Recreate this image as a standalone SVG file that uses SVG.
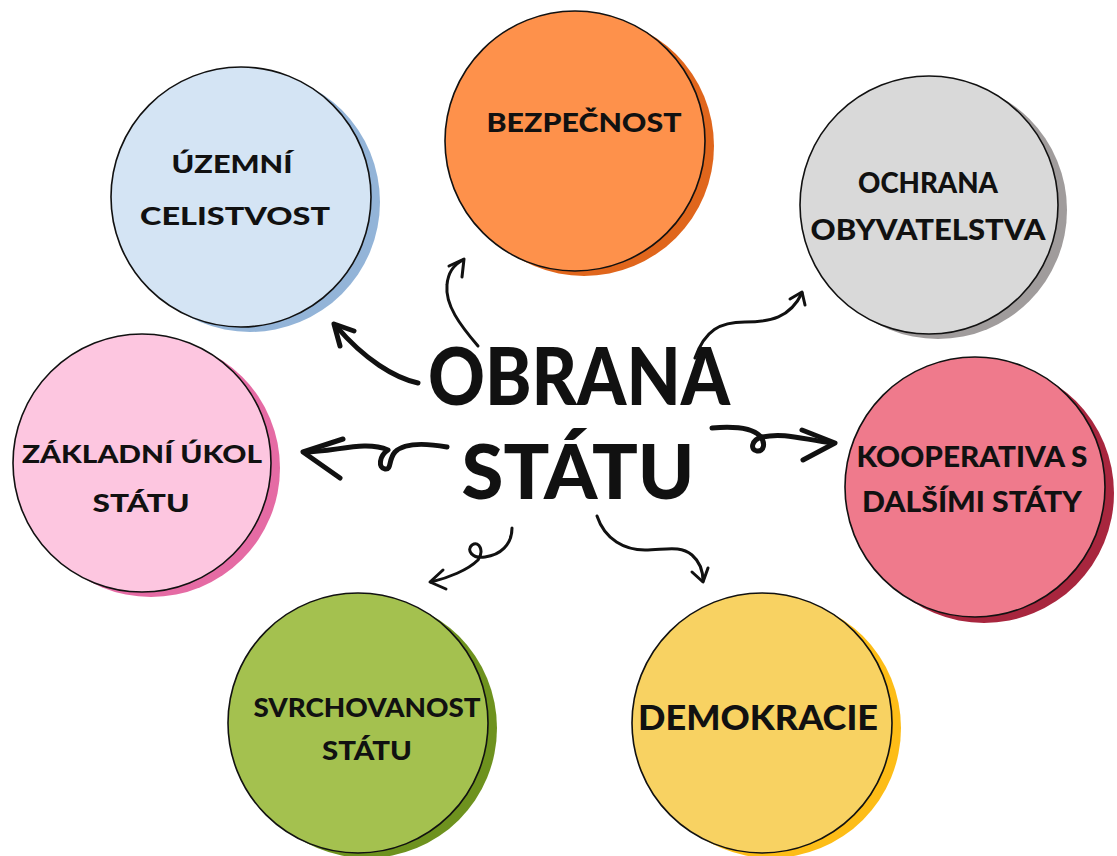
<svg xmlns="http://www.w3.org/2000/svg" width="1117" height="856" viewBox="0 0 1117 856">
<style>
.lbl{font-family:Lato,"Liberation Sans","Noto Sans",sans-serif;font-weight:900;fill:#111;text-anchor:middle}
.ring{stroke:#111;stroke-width:1.6}
.con{fill:none;stroke:#111;stroke-linecap:round;stroke-linejoin:round}
.thick{stroke-width:5}
.thin{stroke-width:3}
</style>
<rect width="1117" height="856" fill="#fff"/>
<g id="node-uzemni">
<circle cx="250" cy="202" r="130" fill="#93b4d8"/>
<circle class="ring" cx="241" cy="197" r="130" fill="#d4e4f4"/>
<text class="lbl" x="232" y="173" font-size="24" textLength="121" lengthAdjust="spacingAndGlyphs">ÚZEMNÍ</text>
<text class="lbl" x="235" y="225" font-size="24" textLength="190" lengthAdjust="spacingAndGlyphs">CELISTVOST</text>
</g>
<g id="node-bezpecnost">
<circle cx="584" cy="146" r="130" fill="#e0661c"/>
<circle class="ring" cx="575" cy="141" r="130" fill="#fe914b"/>
<text class="lbl" x="584" y="132" font-size="26" textLength="195" lengthAdjust="spacingAndGlyphs">BEZPEČNOST</text>
</g>
<g id="node-ochrana">
<circle cx="938" cy="210" r="129" fill="#a09c9c"/>
<circle class="ring" cx="929" cy="205" r="129" fill="#d9d9d9"/>
<text class="lbl" x="928" y="193" font-size="28" textLength="140" lengthAdjust="spacingAndGlyphs">OCHRANA</text>
<text class="lbl" x="928" y="240" font-size="28" textLength="235" lengthAdjust="spacingAndGlyphs">OBYVATELSTVA</text>
</g>
<g id="node-kooperativa">
<circle cx="984" cy="493" r="130" fill="#a8263e"/>
<circle class="ring" cx="975" cy="487" r="130" fill="#ef7a8c"/>
<text class="lbl" x="972" y="467" font-size="28" textLength="231" lengthAdjust="spacingAndGlyphs">KOOPERATIVA S</text>
<text class="lbl" x="972" y="512" font-size="28" textLength="220" lengthAdjust="spacingAndGlyphs">DALŠÍMI STÁTY</text>
</g>
<g id="node-demokracie">
<circle cx="771" cy="728" r="130" fill="#fdbd17"/>
<circle class="ring" cx="762" cy="723" r="130" fill="#f8d262"/>
<text class="lbl" x="758" y="730" font-size="34" textLength="240" lengthAdjust="spacingAndGlyphs">DEMOKRACIE</text>
</g>
<g id="node-svrchovanost">
<circle cx="367" cy="728" r="130" fill="#6e921e"/>
<circle class="ring" cx="358" cy="723" r="130" fill="#a4c14f"/>
<text class="lbl" x="367" y="717" font-size="27" textLength="227" lengthAdjust="spacingAndGlyphs">SVRCHOVANOST</text>
<text class="lbl" x="367" y="760" font-size="27" textLength="90" lengthAdjust="spacingAndGlyphs">STÁTU</text>
</g>
<g id="node-zakladni">
<circle cx="151" cy="468" r="129" fill="#e56ba4"/>
<circle class="ring" cx="142" cy="463" r="129" fill="#fdc6e0"/>
<text class="lbl" x="142" y="463" font-size="24" textLength="240" lengthAdjust="spacingAndGlyphs">ZÁKLADNÍ ÚKOL</text>
<text class="lbl" x="141" y="512" font-size="25" textLength="97" lengthAdjust="spacingAndGlyphs">STÁTU</text>
</g>
<g id="node-center">
<text class="lbl" x="579" y="405" font-size="80" textLength="302" lengthAdjust="spacingAndGlyphs">OBRANA</text>
<text class="lbl" x="578" y="499" font-size="76" textLength="233" lengthAdjust="spacingAndGlyphs">STÁTU</text>
</g>
<g id="connectors">
<path class="con thick" d="M418,383 C395,378 365,360 336,326"/>
<path class="con thick" d="M340,346 L334,324 L354,331"/>
<path class="con thin" d="M478,346 C460,325 445,305 447,285 C448,272 455,264 463,260"/>
<path class="con thin" d="M449,266 L464,259 L462,277"/>
<path class="con thick" d="M447,447 C430,444 405,442 395,452 C388,460 392,470 385,469 C378,468 379,456 388,450 C365,440 335,452 305,452"/>
<path class="con thick" d="M343,439 L303,452 L340,478"/>
<path class="con thin" d="M695,358 C705,330 720,322 745,322 C770,322 790,318 802,293"/>
<path class="con thin" d="M790,299 L802,292 L805,305"/>
<path class="con thick" d="M712,428 C735,426 752,428 760,436 C766,443 764,452 757,451 C750,450 751,440 762,437 C785,432 805,440 833,443"/>
<path class="con thick" d="M802,430 L835,443 L803,460"/>
<path class="con thin" d="M512,528 C512,545 500,555 485,557 C472,559 466,550 472,545 C480,540 484,552 478,560 C468,570 448,578 431,582"/>
<path class="con thin" d="M443,570 L430,582 L446,589"/>
<path class="con thin" d="M597,516 C605,540 625,550 645,550 C665,550 680,545 692,555 C700,562 703,572 703,581"/>
<path class="con thin" d="M692,572 L703,582 L708,568"/>
</g>
</svg>
